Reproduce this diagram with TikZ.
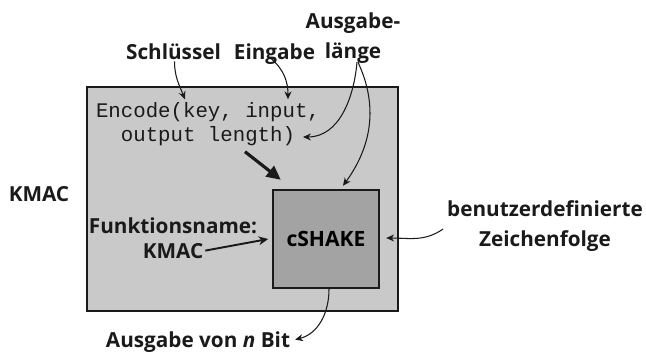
\documentclass[tikz,border=0pt]{standalone}
\usepackage{fontspec}
\setmainfont{Open Sans}
\setmonofont{Liberation Mono}
\usetikzlibrary{positioning,arrows.meta,calc}
\definecolor{boxgray}{HTML}{C9C9C9}
\definecolor{coregray}{HTML}{A3A3A3}
\definecolor{edgeblk}{HTML}{1A1A1A}

\begin{document}
\begin{tikzpicture}[x=0.02cm, y=0.02cm,
    outerBox/.style={draw=edgeblk, fill=boxgray, line width=1.6pt, minimum width=6.22cm, minimum height=4.48cm},
    coreBox/.style={draw=edgeblk, fill=coregray, line width=1.4pt, minimum width=2.12cm, minimum height=1.96cm, inner sep=0pt, font=\fontsize{12}{15}\selectfont\bfseries},
    lblNode/.style={font=\fontsize{11.8}{16.8}\selectfont\bfseries, align=center, inner sep=1pt, text=edgeblk},
    codeNode/.style={font=\fontsize{11.8}{13.6}\selectfont\ttfamily, align=center, inner sep=1pt, text=edgeblk},
    arrowThin/.style={-{Stealth[length=4.5pt,width=4pt]}, line width=0.6pt, draw=edgeblk},
    arrowMid/.style={-{Stealth[length=5.5pt,width=5pt]}, line width=1.1pt, draw=edgeblk},
    arrowBold/.style={-{Triangle[length=8pt,width=7.5pt]}, line width=1.8pt, draw=edgeblk}
]
    \useasboundingbox (0,0) rectangle (646,353);

    % KMAC-Rahmen und cSHAKE-Kern
    \node[outerBox] (kmacBox) at (242.5,154) {};
    \node[coreBox] (cshake) at (326,114) {cSHAKE};
    \node[lblNode, anchor=base] (kmacLbl) at (39,152) {KMAC};

    \node[codeNode] (enc) at (208,229) {Encode(key, input,\\output length)};

    % Eingaben oben
    \node[lblNode, anchor=base] (schl) at (173.5,294) {Schlüssel};
    \node[lblNode, anchor=base] (eing) at (274.5,294) {Eingabe};
    \node[lblNode] (ausg) at (353,315) {Ausgabe-\\länge};

    % Funktionsname und Zeichenfolge
    \node[lblNode, anchor=base] (fname) at (173,120) {Funktionsname:};
    \node[lblNode, anchor=base] (kmacIn) at (173,95) {KMAC};
    \node[lblNode] (usr) at (545,127) {benutzerdefinierte\\Zeichenfolge};

    \node[lblNode, anchor=base] (outb) at (198,6) {Ausgabe von \textit{n} Bit};

    \draw[arrowThin] ($(schl.south)+(1,0)$) to[out=-90, in=112] ($(enc.north)+(-23,1)$);
    \draw[arrowThin] ($(eing.south)+(-4,8)$) to[out=-40, in=90] ($(enc.north)+(80,1)$);
    \draw[arrowThin] ($(ausg.south)+(4,3)$) to[out=-95, in=0] ($(enc.center)+(95,-13)$);
    \draw[arrowThin] ($(ausg.south)+(5,3)$) to[out=-65, in=54] ($(cshake.north)+(17,3)$);

    \draw[arrowBold] ($(enc.south)+(37,-4)$) -- ($(cshake.north west)+(9,9)$);
    \draw[arrowMid] (kmacIn.east) -- ([xshift=-2pt]cshake.west);
    \draw[arrowThin] ($(usr.west)+(-2,-3)$) to[out=215, in=0] ($(cshake.east)+(6,1)$);
    \draw[arrowThin] ($(cshake.south)+(3,0)$) to[out=-90, in=14] ($(outb.east)+(3,2)$);
\end{tikzpicture}
\end{document}
